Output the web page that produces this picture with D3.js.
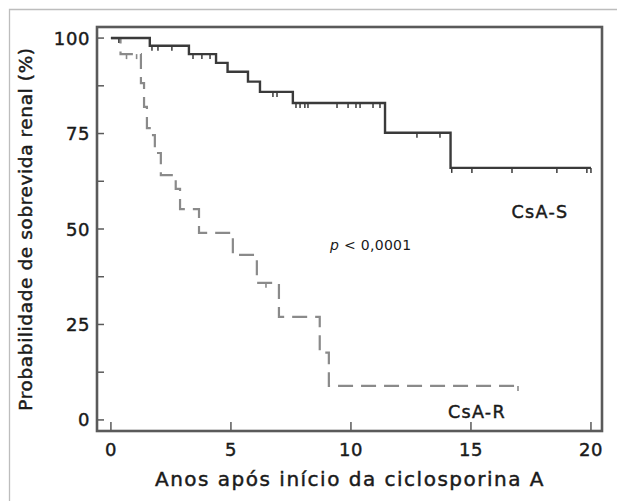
<!DOCTYPE html>
<html>
<head>
<meta charset="utf-8">
<script src="https://cdn.jsdelivr.net/npm/d3@7"></script>
<style>
  body { margin: 0; background: #fff; }
  svg { display: block; }
  text { font-family: "DejaVu Sans", sans-serif; fill: #1a1a1a; }
  text.heavy { stroke: #1a1a1a; stroke-width: 0.45; }
</style>
</head>
<body>
<svg id="chart" width="617" height="501"></svg>
<script>
// Kaplan-Meier steps (years, % surviving)
const csa_s_years = [0, 1.62, 3.25, 4.38, 4.86, 5.71, 6.21, 7.58, 11.42, 14.15, 20.0]
const csa_s_surv = [100, 98.0, 95.8, 93.5, 91.2, 88.6, 85.9, 83.0, 75.2, 66.0, 66.0]
const csa_s_censored = [0.33, 1.71, 1.96, 2.54, 3.42, 3.79, 4.13, 6.75, 6.92, 7.71, 7.88, 8.08, 8.21,
  9.42, 9.88, 10.21, 10.38, 10.92, 11.21, 12.75, 13.71, 14.2, 15.04, 16.71, 18.58, 19.83, 20.0]

const csa_r_years = [0, 0.4, 1.25, 1.38, 1.5, 1.67, 1.83, 2.08, 2.7, 2.88, 3.67, 5.08, 6.08, 7.0, 8.7, 9.08, 16.96]
const csa_r_surv = [100, 95.8, 88.2, 82.0, 76.4, 74.6, 69.9, 64.1, 60.5, 55.2, 49.0, 43.2, 35.9, 27.0, 17.6, 8.9, 8.9]
const csa_r_censored = [0.65, 1.07, 6.46, 16.96]

const x_ticks = [0, 5, 10, 15, 20]
const y_labels = [0, 25, 50, 75, 100]
const y_ticks = [0, 12.5, 25, 37.5, 50, 62.5, 75, 87.5, 100]

const frame = { left: 97, right: 602, top: 27, bottom: 431 }
const tick_len = 7

const svg = d3.select("#chart")

// light outer border of the figure
svg.append("path")
  .attr("d", "M9.5,501 L9.5,9.5 L617,9.5")
  .attr("fill", "none")
  .attr("stroke", "#bdbdbd")
  .attr("stroke-width", 1.3)

const x = d3.scaleLinear().domain([-0.58, 20.46]).range([frame.left, frame.right])
const y = d3.scaleLinear().domain([-2.9, 102.9]).range([frame.bottom, frame.top])

// value of a step curve at time t (for censor marks)
function surv_at(years, surv, t){
  let v = surv[0]
  for (let i = 0; i < years.length; i++){
    if (years[i] <= t + 1e-9){ v = surv[i] }
  }
  return v
}

// inward ticks
const axis_color = "#5a5a5a"
svg.append("g").selectAll("line")
  .data(y_ticks)
  .enter()
  .append("line")
  .attr("x1", frame.left)
  .attr("x2", frame.left + tick_len)
  .attr("y1", d => y(d))
  .attr("y2", d => y(d))
  .attr("stroke", axis_color)
  .attr("stroke-width", 1.5)

svg.append("g").selectAll("line")
  .data(x_ticks)
  .enter()
  .append("line")
  .attr("x1", d => x(d))
  .attr("x2", d => x(d))
  .attr("y1", frame.bottom)
  .attr("y2", frame.bottom - tick_len - 2)
  .attr("stroke", axis_color)
  .attr("stroke-width", 1.5)

// tick labels
svg.append("g").selectAll("text")
  .data(y_labels)
  .enter()
  .append("text")
  .attr("class", "heavy")
  .attr("x", frame.left - 7)
  .attr("y", d => y(d) + 6.5)
  .attr("text-anchor", "end")
  .attr("font-size", 18)
  .attr("letter-spacing", 0.6)
  .text(d => d)

svg.append("g").selectAll("text")
  .data(x_ticks)
  .enter()
  .append("text")
  .attr("class", "heavy")
  .attr("x", d => x(d))
  .attr("y", 456)
  .attr("text-anchor", "middle")
  .attr("font-size", 18)
  .attr("letter-spacing", 0.6)
  .text(d => d)

// curves
const line = d3.line()
  .x(d => x(d[0]))
  .y(d => y(d[1]))
  .curve(d3.curveStepAfter)

const r_points = csa_r_years.map((t, i) => [t, csa_r_surv[i]])
const s_points = csa_s_years.map((t, i) => [t, csa_s_surv[i]])

svg.append("path")
  .datum(r_points)
  .attr("d", line)
  .attr("fill", "none")
  .attr("stroke", "#8a8a8a")
  .attr("stroke-width", 2.2)
  .attr("stroke-dasharray", "15,8")

svg.append("g").selectAll("line")
  .data(csa_r_censored)
  .enter()
  .append("line")
  .attr("x1", d => x(d))
  .attr("x2", d => x(d))
  .attr("y1", d => y(surv_at(csa_r_years, csa_r_surv, d)))
  .attr("y2", d => y(surv_at(csa_r_years, csa_r_surv, d)) + 5)
  .attr("stroke", "#8a8a8a")
  .attr("stroke-width", 1.6)

svg.append("path")
  .datum(s_points)
  .attr("d", line)
  .attr("fill", "none")
  .attr("stroke", "#3a3a3a")
  .attr("stroke-width", 2.4)

svg.append("g").selectAll("line")
  .data(csa_s_censored)
  .enter()
  .append("line")
  .attr("x1", d => x(d))
  .attr("x2", d => x(d))
  .attr("y1", d => y(surv_at(csa_s_years, csa_s_surv, d)))
  .attr("y2", d => y(surv_at(csa_s_years, csa_s_surv, d)) + 5)
  .attr("stroke", "#3a3a3a")
  .attr("stroke-width", 1.5)

// frame
svg.append("rect")
  .attr("x", frame.left)
  .attr("y", frame.top)
  .attr("width", frame.right - frame.left)
  .attr("height", frame.bottom - frame.top)
  .attr("fill", "none")
  .attr("stroke", axis_color)
  .attr("stroke-width", 2.6)

// annotations
svg.append("text")
  .attr("class", "heavy")
  .attr("x", 540)
  .attr("y", 218)
  .attr("text-anchor", "middle")
  .attr("font-size", 17.5)
  .attr("letter-spacing", 1.3)
  .text("CsA-S")

svg.append("text")
  .attr("class", "heavy")
  .attr("x", 477)
  .attr("y", 418)
  .attr("text-anchor", "middle")
  .attr("font-size", 17.5)
  .attr("letter-spacing", 1.3)
  .text("CsA-R")

const p_text = svg.append("text")
  .attr("x", 330)
  .attr("y", 250)
  .attr("font-size", 14)
  .attr("letter-spacing", 0.3)
p_text.append("tspan").attr("font-style", "italic").text("p")
p_text.append("tspan").text(" < 0,0001")

// axis titles
svg.append("text")
  .attr("class", "heavy")
  .attr("x", 350)
  .attr("y", 486)
  .attr("text-anchor", "middle")
  .attr("font-size", 20)
  .attr("letter-spacing", 1.5)
  .text("Anos após início da ciclosporina A")

svg.append("text")
  .attr("class", "heavy")
  .attr("transform", "translate(32,229) rotate(-90)")
  .attr("text-anchor", "middle")
  .attr("font-size", 18.5)
  .attr("letter-spacing", 0.6)
  .text("Probabilidade de sobrevida renal (%)")
</script>
</body>
</html>
